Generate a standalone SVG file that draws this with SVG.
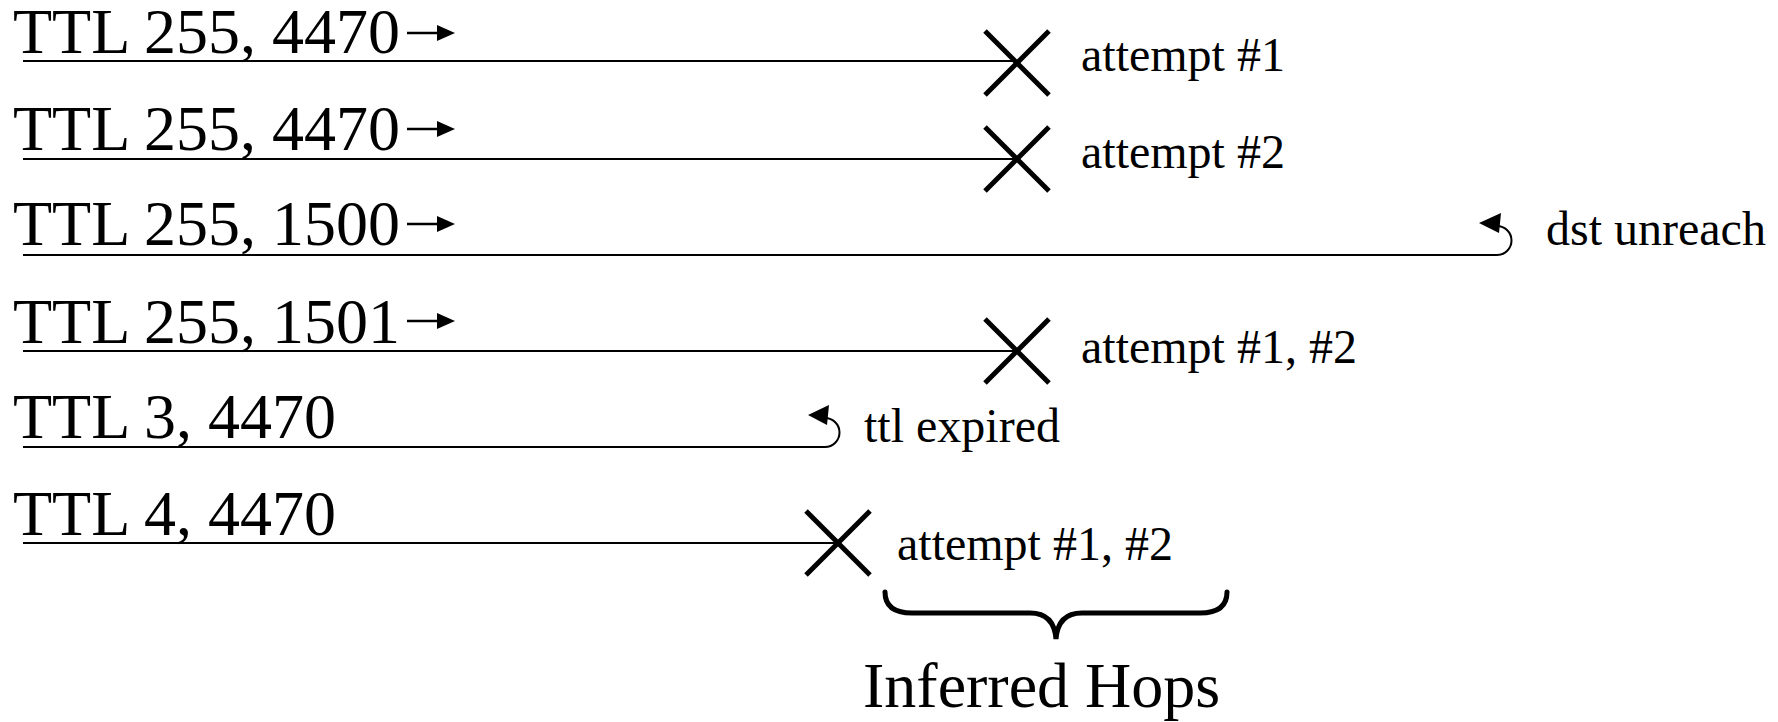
<svg xmlns="http://www.w3.org/2000/svg" width="1778" height="722" viewBox="0 0 1778 722">
<style>
.lbl{font-family:"Liberation Serif","Times New Roman",serif;font-size:64px;fill:#000}
.note{font-family:"Liberation Serif","Times New Roman",serif;font-size:48px;fill:#000}
.big{font-family:"Liberation Serif","Times New Roman",serif;font-size:64px;fill:#000}
.ln{stroke:#000;stroke-width:2;fill:none}
.x{stroke:#000;stroke-width:5;fill:none}
.dir{stroke:#000;stroke-width:2.5}
</style>
<defs>
<g id="rarrow"><line x1="407" y1="0" x2="440" y2="0" class="dir"/><polygon points="437,-8 455,0 437,8" fill="#000"/></g>
<g id="xmark"><line x1="-32" y1="-32" x2="32" y2="32" class="x"/><line x1="-32" y1="32" x2="32" y2="-32" class="x"/></g>
</defs>
<g id="connectors">
<line x1="23" y1="61" x2="1017" y2="61" class="ln"/>
<line x1="23" y1="159" x2="1017" y2="159" class="ln"/>
<path d="M23 255 H1497 A14.5 14.5 0 0 0 1497 226" class="ln"/>
<polygon points="1479,223 1501,213 1499,233" fill="#000"/>
<line x1="23" y1="351" x2="1017" y2="351" class="ln"/>
<path d="M23 447 H825 A14.5 14.5 0 0 0 825 418" class="ln"/>
<polygon points="808,415 829,405 827,425" fill="#000"/>
<line x1="23" y1="543" x2="838" y2="543" class="ln"/>
</g>
<g id="row1">
<text x="13" y="53" class="lbl">TTL 255, 4470</text>
<use href="#rarrow" y="33"/>
<use href="#xmark" x="1017" y="63"/>
<text x="1081" y="71" class="note">attempt #1</text>
</g>
<g id="row2">
<text x="13" y="150" class="lbl">TTL 255, 4470</text>
<use href="#rarrow" y="129"/>
<use href="#xmark" x="1017" y="159"/>
<text x="1081" y="168" class="note">attempt #2</text>
</g>
<g id="row3">
<text x="13" y="245" class="lbl">TTL 255, 1500</text>
<use href="#rarrow" y="224"/>
<text x="1546" y="245" class="note">dst unreach</text>
</g>
<g id="row4">
<text x="13" y="343" class="lbl">TTL 255, 1501</text>
<use href="#rarrow" y="321"/>
<use href="#xmark" x="1017" y="351"/>
<text x="1081" y="363" class="note">attempt #1, #2</text>
</g>
<g id="row5">
<text x="13" y="438" class="lbl">TTL 3, 4470</text>
<text x="864" y="442" class="note">ttl expired</text>
</g>
<g id="row6">
<text x="13" y="535" class="lbl">TTL 4, 4470</text>
<use href="#xmark" x="838" y="543"/>
<text x="897" y="560" class="note">attempt #1, #2</text>
</g>
<g id="brace">
<path d="M885 592 Q885 613 912 613 H1030 Q1054 613 1056 639 Q1058 613 1082 613 H1200 Q1227 613 1227 592" stroke="#000" stroke-width="5" fill="none" stroke-linecap="round"/>
<text x="863" y="707" class="big">Inferred Hops</text>
</g>
</svg>
